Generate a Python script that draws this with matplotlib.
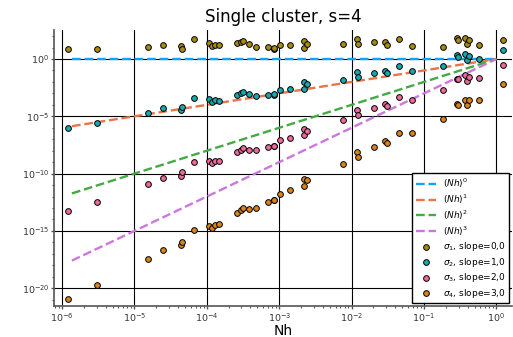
import numpy as np
import matplotlib
matplotlib.use("Agg")
import matplotlib.pyplot as plt
from matplotlib.ticker import FixedLocator, LogLocator, NullFormatter

# Mesh parameter Nh (log10) and the four singular values sigma_k (log10)
log_nh = [-5.921, -5.517, -4.816, -4.601, -4.356, -4.343, -4.177, -3.974, -3.924, -3.883,
          -3.836, -3.579, -3.528, -3.496, -3.413, -3.316, -3.151, -3.076, -3.068, -2.985,
          -2.858, -2.662, -2.657, -2.616, -2.115, -1.930, -1.916, -1.695, -1.535, -1.507,
          -1.349, -1.162, -0.742, -0.544, -0.534, -0.434, -0.402, -0.383, -0.244, 0.095]

log_sigma1 = [0.873, 0.873, 1.073, 1.248, 1.161, 0.873, 1.719, 1.422, 1.161, 1.248,
              1.195, 1.422, 1.510, 1.545, 1.283, 1.021, 1.021, 0.873, 0.986, 1.248,
              1.222, 0.986, 1.571, 1.309, 1.283, 1.771, 1.309, 1.483, 1.483, 1.222,
              1.745, 1.134, 1.073, 1.832, 1.658, 1.832, 1.283, 1.632, 1.222, 1.658]

log_sigma2 = [-5.995, -5.585, -4.712, -4.302, -4.424, -4.162, -3.429, -3.516, -3.726, -3.604,
              -3.639, -3.115, -2.993, -2.906, -3.054, -3.255, -3.115, -3.168, -3.080, -2.705,
              -2.635, -2.618, -2.033, -2.208, -1.806, -1.134, -1.545, -1.195, -1.021, -1.222,
              -0.585, -1.021, -0.585, 0.323, 0.175, 0.410, -0.087, 0.288, 0.026, 0.759]

log_sigma3 = [-13.29, -12.48, -10.91, -10.36, -10.18, -9.89, -9.01, -8.90, -9.10, -8.90,
              -8.88, -8.12, -7.91, -7.79, -7.91, -7.97, -7.65, -7.59, -7.55, -7.09,
              -6.85, -6.66, -6.08, -6.26, -5.32, -4.48, -4.89, -4.28, -3.95, -4.10,
              -3.34, -3.55, -2.73, -1.72, -1.77, -1.42, -1.89, -1.54, -1.63, -0.50]

log_sigma4 = [-20.94, -19.72, -17.45, -16.64, -16.23, -15.97, -14.92, -14.60, -14.72, -14.51,
              -14.42, -13.41, -13.18, -13.03, -13.06, -13.00, -12.50, -12.33, -12.30, -11.78,
              -11.45, -11.06, -10.45, -10.58, -9.14, -8.12, -8.53, -7.68, -7.18, -7.33,
              -6.43, -6.43, -5.21, -3.90, -4.04, -3.60, -4.01, -3.60, -3.60, -2.16]

sigma_labels = [r"$\sigma_1$, slope=0,0", r"$\sigma_2$, slope=1,0",
                r"$\sigma_3$, slope=2,0", r"$\sigma_4$, slope=3,0"]
powers = [0, 1, 2, 3]
ref_range = [1.37e-6, 1.0]

line_colors = ["#14a0ff", "#e8744a", "#44aa44", "#cc77dd"]
point_colors = ["#a88a12", "#14aab0", "#ec6a9c", "#d8841e"]

fig = plt.figure(figsize=(5.13, 3.37), dpi=100)
ax = fig.add_axes([0.106, 0.092, 0.892, 0.819])

nh = 10.0 ** np.array(log_nh)
ref_x = np.array(ref_range)
for p, c in zip(powers, line_colors):
    ax.plot(ref_x, ref_x ** p, linestyle="--", color=c, linewidth=1.7,
            label=r"$(Nh)^{%d}$" % p, zorder=3)

for vals, c, lab in zip([log_sigma1, log_sigma2, log_sigma3, log_sigma4],
                        point_colors, sigma_labels):
    ax.scatter(nh, 10.0 ** np.array(vals), s=17, color=c, edgecolors="black",
               linewidths=0.7, label=lab, zorder=4)

ax.set_xscale("log")
ax.set_yscale("log")
ax.set_xlim(10 ** -6.106, 10 ** 0.215)
ax.set_ylim(10 ** -21.55, 10 ** 2.53)

ax.yaxis.set_major_locator(FixedLocator([1e-20, 1e-15, 1e-10, 1e-5, 1e0]))
ax.yaxis.set_minor_locator(FixedLocator([10.0 ** k for k in range(-21, 3)]))
ax.yaxis.set_minor_formatter(NullFormatter())
ax.xaxis.set_major_locator(FixedLocator([10.0 ** k for k in range(-6, 1)]))
ax.xaxis.set_minor_locator(LogLocator(base=10, subs=np.arange(2, 10), numticks=20))
ax.xaxis.set_minor_formatter(NullFormatter())

ax.grid(True, which="major", color="black", linewidth=0.8)
ax.set_axisbelow(True)
for side in ["top", "right"]:
    ax.spines[side].set_visible(False)
for side in ["left", "bottom"]:
    ax.spines[side].set_color("#555555")
    ax.spines[side].set_linewidth(1.2)
ax.tick_params(which="major", direction="out", length=2.5, width=1, colors="#555555",
               labelcolor="#333333", labelsize=6.8, pad=1.2)
ax.tick_params(which="minor", direction="out", length=1.5, width=0.8, colors="#555555")

ax.set_title("Single cluster, s=4", fontsize=12)
ax.set_xlabel("Nh", fontsize=10, labelpad=0)

leg = ax.legend(loc="lower right", fontsize=6.5, frameon=True, fancybox=False,
                borderaxespad=0.3, labelspacing=0.28, handlelength=2.2,
                handletextpad=0.8, borderpad=0.4)
leg.get_frame().set_edgecolor("black")
leg.get_frame().set_linewidth(1.0)
leg.get_frame().set_alpha(1.0)

fig.savefig("out.png", dpi=100)
